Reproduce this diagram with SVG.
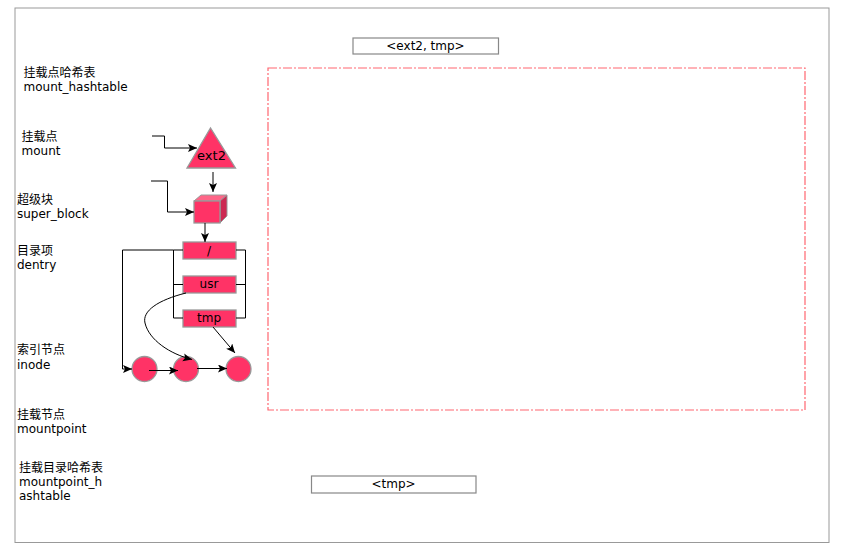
<svg xmlns="http://www.w3.org/2000/svg" width="845" height="556" viewBox="0 0 845 556">
<style>
text{font-family:"DejaVu Sans","Noto Sans CJK SC",sans-serif;font-size:12px;fill:#000}
.m{text-anchor:middle}
.box{fill:#ff3366;stroke:#999;stroke-width:1.3}
.lbl{fill:#fff;stroke:#888;stroke-width:1.2}
.c{fill:none;stroke:#000;stroke-width:1}
.a{marker-end:url(#arr)}
</style>
<defs>
<marker id="arr" markerUnits="userSpaceOnUse" markerWidth="10" markerHeight="9" refX="9" refY="4" orient="auto"><path d="M0 0L9 4L0 8L2 4Z" fill="#000"/></marker>
</defs>
<rect width="845" height="556" fill="#fff"/>
<g id="frame"><rect x="15" y="8" width="814" height="534.500" fill="#fff" stroke="#999" stroke-width="1"/></g>
<g id="region"><rect x="268" y="68" width="537" height="342" fill="none" stroke="#ff6670" stroke-width="1.2" stroke-dasharray="9 2 2 2"/></g>
<g id="n-ext2"><path class="box" d="M187 168L210.500 128L235.500 168Z"/><text class="m" x="211.500" y="160" style="font-size:13px">ext2</text></g>
<g id="n-superblock">
<path d="M194 201L201 195H227L220 201Z" fill="#ff6688" stroke="#999"/>
<path d="M220 201L227 195V216L220 223Z" fill="#cc2952" stroke="#999"/>
<rect class="box" x="194" y="201" width="26" height="22"/>
</g>
<g id="n-root"><rect class="box" x="183" y="242" width="53" height="17"/><text class="m" x="209" y="255">/</text></g>
<g id="n-usr"><rect class="box" x="183" y="276" width="53" height="17"/><text class="m" x="209" y="288">usr</text></g>
<g id="n-tmp"><rect class="box" x="183" y="310" width="53" height="17"/><text class="m" x="209" y="322">tmp</text></g>
<g id="n-i1"><circle class="box" cx="144.500" cy="369" r="12.500"/></g>
<g id="n-i2"><circle class="box" cx="186" cy="369" r="12.500"/></g>
<g id="n-i3"><circle class="box" cx="238.500" cy="369" r="12.500"/></g>
<g id="n-ext2-tmp"><rect class="lbl" x="353" y="38" width="145.500" height="16"/><text class="m" x="425.500" y="50">&lt;ext2, tmp&gt;</text></g>
<g id="n-tmp-label"><rect class="lbl" x="311.500" y="476" width="164.500" height="17"/><text class="m" x="393.500" y="488">&lt;tmp&gt;</text></g>
<g id="connectors">
<path class="c a" d="M152 136H164.500V148H197"/>
<path class="c a" d="M213 172V192"/>
<path class="c a" d="M151 181H167.500V212H194"/>
<path class="c a" d="M205 223V242"/>
<path class="c" d="M183 250H173.500V318H183M173.500 284.500H183M236 250H245.500V318H236M236 284.500H245.500"/>
<path class="c a" d="M173.500 250H122.500V369H132"/>
<path class="c a" d="M186 293C158 300 142 311 145 323C149 340 170 354 192 359.500"/>
<path class="c a" d="M213 327L235 353"/>
<path class="c a" d="M149 370.500H178"/>
<path class="c a" d="M197 368.500H227"/>
</g>
<g id="labels">
<text x="23.500" y="77">挂载点哈希表</text><text x="23.500" y="91">mount_hashtable</text>
<text x="21.500" y="141">挂载点</text><text x="21.500" y="155">mount</text>
<text x="17" y="204">超级块</text><text x="17" y="218">super_block</text>
<text x="17" y="255">目录项</text><text x="17" y="269">dentry</text>
<text x="17" y="354">索引节点</text><text x="17" y="369">inode</text>
<text x="17" y="419">挂载节点</text><text x="17" y="433">mountpoint</text>
<text x="19" y="472">挂载目录哈希表</text><text x="19" y="486">mountpoint_h</text><text x="19" y="500">ashtable</text>
</g>
</svg>
